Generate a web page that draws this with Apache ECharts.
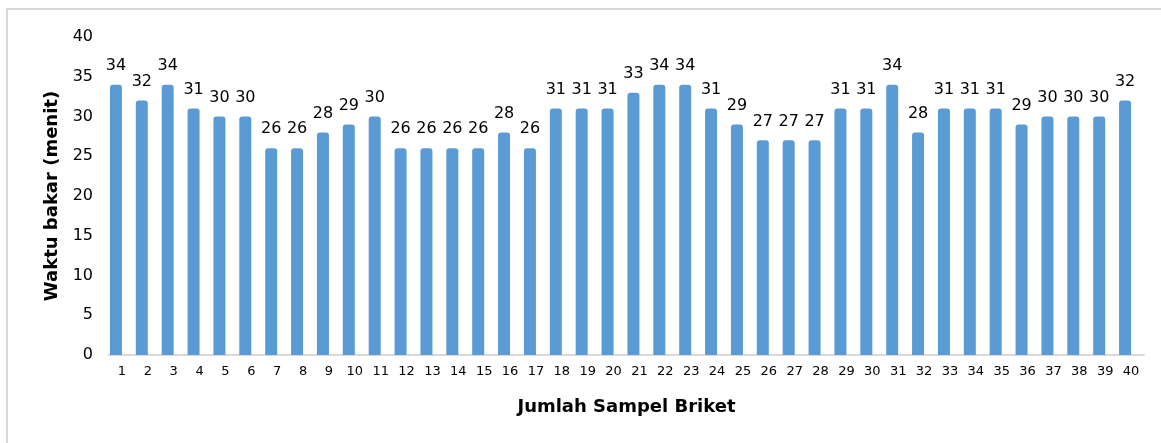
<!DOCTYPE html>
<html>
<head>
<meta charset="utf-8">
<script src="https://cdn.jsdelivr.net/npm/echarts@6/dist/echarts.min.js"></script>
<style>
    html, body {margin: 0; padding: 0; background: #fff;}
    #chart {width: 1161px; height: 443px;}
</style>
</head>
<body>
<div id="chart"></div>
<script>
    // sampel 1..40
    var categories = [];
    for (var i = 1; i <= 40; i++) categories.push(String(i));

    // waktu bakar (menit)
    var waktuBakar = [34, 32, 34, 31, 30, 30, 26, 26, 28, 29,
                      30, 26, 26, 26, 26, 28, 26, 31, 31, 31,
                      33, 34, 34, 31, 29, 27, 27, 27, 31, 31,
                      34, 28, 31, 31, 31, 29, 30, 30, 30, 32];

    // second (empty) series slot, as in the original spreadsheet chart
    var kosong = [];

    var yTicks = [0, 5, 10, 15, 20, 25, 30, 35, 40];

    var font = 'DejaVu Sans';
    var myChart = echarts.init(document.getElementById('chart'));
    var option = {
        animation: false,
        textStyle: {fontFamily: font},
        graphic: [{
            type: 'rect',
            shape: {x: 7, y: 9, width: 1300, height: 600},
            style: {fill: 'none', stroke: '#d9d9d9', lineWidth: 2},
            silent: true
        }],
        grid: {left: 109, right: 17, top: 37, bottom: 88},
        xAxis: {
            type: 'category',
            data: categories,
            name: 'Jumlah Sampel Briket',
            nameLocation: 'middle',
            nameGap: 43,
            nameTextStyle: {fontSize: 18, fontWeight: 'bold', color: '#000', fontFamily: font},
            axisLine: {lineStyle: {color: '#d9d9d9', width: 2}},
            axisTick: {show: false},
            axisLabel: {color: '#000', fontSize: 13, margin: 10, interval: 0, fontFamily: font}
        },
        yAxis: {
            type: 'value',
            min: yTicks[0],
            max: yTicks[yTicks.length - 1],
            interval: 5,
            name: 'Waktu bakar (menit)',
            nameLocation: 'middle',
            nameGap: 45,
            nameTextStyle: {fontSize: 18, fontWeight: 'bold', color: '#000', fontFamily: font},
            axisLine: {show: false},
            axisTick: {show: false},
            splitLine: {show: false},
            axisLabel: {color: '#000', fontSize: 16, margin: 16, fontFamily: font}
        },
        series: [
            {
                name: 'Waktu bakar',
                type: 'bar',
                data: waktuBakar,
                barWidth: 12,
                barGap: '0%',
                itemStyle: {color: '#5b9bd5', borderRadius: [3, 3, 0, 0]},
                label: {
                    show: true,
                    position: 'top',
                    distance: 11,
                    color: '#000',
                    fontSize: 16,
                    fontFamily: font
                }
            },
            {
                name: 'kosong',
                type: 'bar',
                data: kosong,
                barWidth: 12,
                barGap: '0%'
            }
        ]
    };
    myChart.setOption(option);
</script>
</body>
</html>
